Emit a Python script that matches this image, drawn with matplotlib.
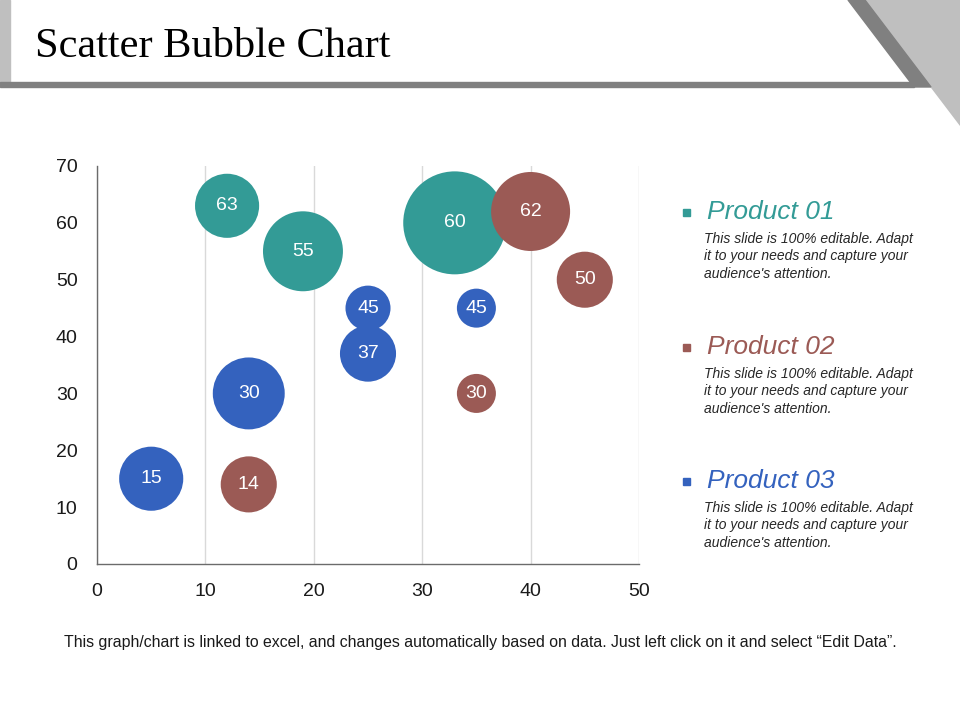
import matplotlib.pyplot as plt
import matplotlib.patches as mpatches

# data
products = ["Product 01", "Product 02", "Product 03"]
colors = ["#339B96", "#9B5A55", "#3462BE"]

x_p1 = [12, 19, 33]
y_p1 = [63, 55, 60]
size_p1 = [8.1, 12.6, 20.9]

x_p2 = [40, 45, 35, 14]
y_p2 = [62, 50, 30, 14]
size_p2 = [12.3, 6.2, 3.0, 6.2]

x_p3 = [25, 35, 25, 14, 5]
y_p3 = [45, 45, 37, 30, 15]
size_p3 = [4.0, 3.0, 6.2, 10.2, 8.1]

xticks = [0, 10, 20, 30, 40, 50]
yticks = [0, 10, 20, 30, 40, 50, 60, 70]

desc = "This slide is 100% editable. Adapt\nit to your needs and capture your\naudience's attention."
footer = "This graph/chart is linked to excel, and changes automatically based on data. Just left click on it and select \u201cEdit Data\u201d."

plt.rcParams['font.family'] = ['Liberation Sans', 'DejaVu Sans']

fig = plt.figure(figsize=(9.6, 7.2), dpi=100)
W, H = 960.0, 720.0

# header decorations (pixel coords -> figure fraction)
def fpt(x, y):
    return (x / W, 1 - y / H)

fig.patches.append(mpatches.Polygon([fpt(0, 0), fpt(10, 0), fpt(10, 82), fpt(0, 82)],
                                    closed=True, transform=fig.transFigure, color="#BFBFBF"))
fig.patches.append(mpatches.Polygon([fpt(0, 82), fpt(914, 82), fpt(914, 87), fpt(0, 87)],
                                    closed=True, transform=fig.transFigure, color="#808080"))
fig.patches.append(mpatches.Polygon([fpt(865, 0), fpt(960, 0), fpt(960, 125)],
                                    closed=True, transform=fig.transFigure, color="#BFBFBF"))
fig.patches.append(mpatches.Polygon([fpt(848, 0), fpt(865, 0), fpt(931, 87), fpt(914, 87)],
                                    closed=True, transform=fig.transFigure, color="#808080"))

fig.text(35 / W, 1 - 57 / H, "Scatter Bubble Chart", family=["Liberation Serif", "DejaVu Serif"],
         fontsize=30.5, color="black", va="baseline", ha="left")

ax = fig.add_axes([97 / W, 1 - 564 / H, 542 / W, 398 / H])
ax.set_xlim(0, 50)
ax.set_ylim(0, 70)
ax.set_xticks(xticks)
ax.set_yticks(yticks)
ax.tick_params(length=0, labelsize=14, labelcolor="#1a1a1a")
ax.tick_params(axis="x", pad=14)
ax.tick_params(axis="y", pad=14)
ax.xaxis.grid(True, color="#D9D9D9", linewidth=1)
ax.yaxis.grid(False)
ax.set_axisbelow(True)
for s in ["top", "right"]:
    ax.spines[s].set_visible(False)
for s in ["left", "bottom"]:
    ax.spines[s].set_color("#6b6b6b")
    ax.spines[s].set_linewidth(1)

scale = 263
series = [(x_p1, y_p1, size_p1), (x_p2, y_p2, size_p2), (x_p3, y_p3, size_p3)]
for (xs, ys, ss), c in zip(series, colors):
    ax.scatter(xs, ys, s=[v * scale for v in ss], color=c, edgecolors="none", zorder=3, clip_on=False)
    for xv, yv in zip(xs, ys):
        ax.text(xv, yv, str(yv), color="white", fontsize=14, ha="center", va="center", zorder=4)

# legend panel
ys_title = [212, 347, 481]
for name, c, yt in zip(products, colors, ys_title):
    fig.patches.append(mpatches.Rectangle((683 / W, 1 - (yt + 4) / H), 7 / W, 7 / H,
                                          transform=fig.transFigure, color=c))
    fig.text(707 / W, 1 - yt / H, name, fontsize=19, style="italic", color=c, va="center", ha="left")
    fig.text(704 / W, 1 - (yt + 20) / H, desc, fontsize=10, style="italic", color="#262626",
             va="top", ha="left", linespacing=1.3)

fig.text(480 / W, 1 - 642 / H, footer, fontsize=11.4, color="#1a1a1a", ha="center", va="center")

fig.savefig("out.png", dpi=100)
